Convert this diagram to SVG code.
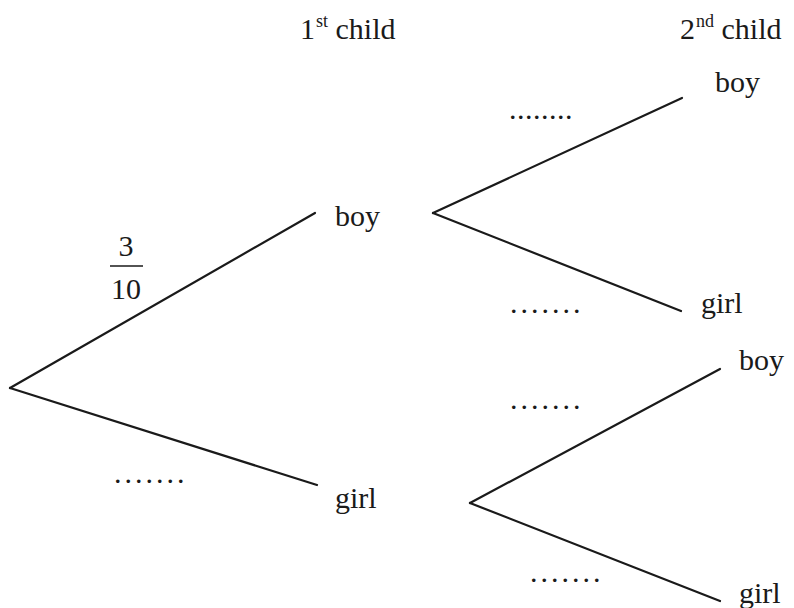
<svg xmlns="http://www.w3.org/2000/svg" width="794" height="608" viewBox="0 0 794 608">
<style>
text{font-family:"Liberation Serif","Times New Roman",serif;font-size:30px;fill:#1a1a1a}
.d{letter-spacing:3px}
.d8{letter-spacing:0.5px}
.sup{font-size:18px}
line{stroke:#1a1a1a;stroke-width:2.2;stroke-linecap:round}
</style>
<rect width="794" height="608" fill="#ffffff"/>
<g id="headers">
<text x="300" y="39">1<tspan class="sup" dy="-12" dx="1">st</tspan><tspan dy="12"> child</tspan></text>
<text x="680" y="39">2<tspan class="sup" dy="-12" dx="1">nd</tspan><tspan dy="12"> child</tspan></text>
</g>
<g id="connectors">
<line x1="10" y1="388" x2="315" y2="213"/>
<line x1="10" y1="388" x2="317" y2="485"/>
<line x1="433" y1="213" x2="682" y2="98"/>
<line x1="433" y1="213" x2="681" y2="311"/>
<line x1="470" y1="503" x2="720" y2="369"/>
<line x1="470" y1="503" x2="720" y2="601"/>
</g>
<g id="node-boy1"><text x="335" y="226">boy</text></g>
<g id="node-girl1"><text x="335" y="508">girl</text></g>
<g id="node-boy-boy"><text x="715" y="92">boy</text></g>
<g id="node-boy-girl"><text x="701" y="313">girl</text></g>
<g id="node-girl-boy"><text x="739" y="370">boy</text></g>
<g id="node-girl-girl"><text x="739" y="603">girl</text></g>
<g id="labels">
<text x="126" y="256" text-anchor="middle">3</text>
<line x1="110" y1="266" x2="143" y2="266" style="stroke-width:1.6;stroke-linecap:butt"/>
<text x="126" y="299" text-anchor="middle">10</text>
<text class="d8" x="509" y="119">........</text>
<text class="d" x="510" y="313">.......</text>
<text class="d" x="510" y="409">.......</text>
<text class="d" x="114" y="483">.......</text>
<text class="d" x="530" y="582">.......</text>
</g>
</svg>
